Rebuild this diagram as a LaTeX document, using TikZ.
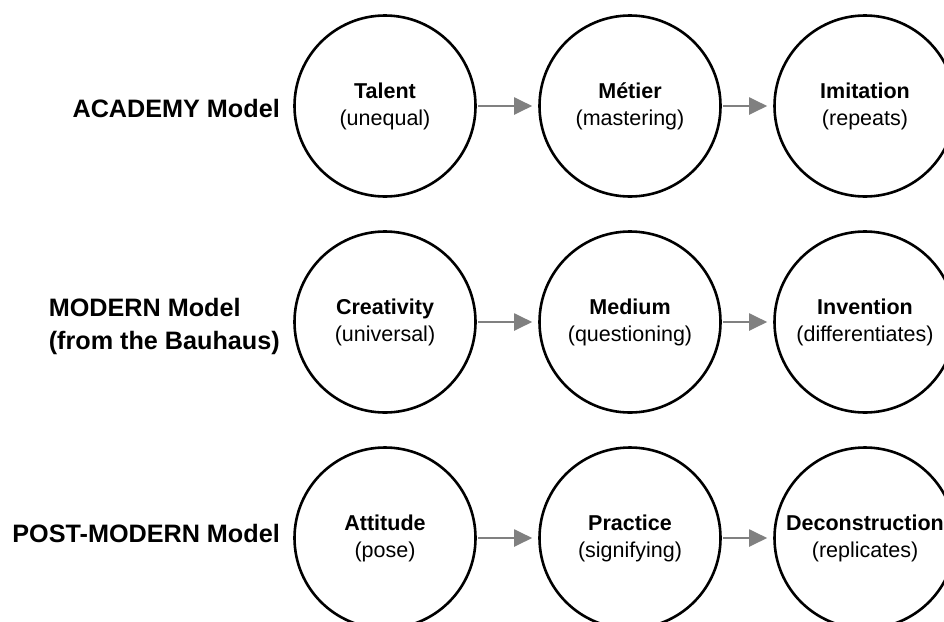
\documentclass[tikz,border=0pt]{standalone}
\usepackage{fontspec}
\setmainfont{Liberation Sans}
\usetikzlibrary{arrows.meta}

\begin{document}
\begin{tikzpicture}[
    x=1pt, y=-1pt,
    stage/.style={circle, draw=black, line width=2.6pt, minimum size=181pt, inner sep=0pt,
        align=center, font=\fontsize{21.5}{27}\selectfont},
    model/.style={anchor=east, align=left, inner sep=0pt, font=\fontsize{25.2}{33}\selectfont\bfseries},
    flow/.style={draw=black!50, line width=2pt, -{Triangle[length=18pt, width=17pt]},
        shorten <=1.3pt, shorten >=6pt}
    ]
    \useasboundingbox (0,0) rectangle (944,621);

    % row labels
    \node[model] (academy)    at (280,108) {ACADEMY Model};
    \node[model] (modern)     at (280,326) {MODERN Model\\(from the Bauhaus)};
    \node[model] (postmodern) at (280,533) {POST-MODERN Model};

    % academy
    \node[stage] (talent)    at (385,106) {\textbf{Talent}\\(unequal)};
    \node[stage] (metier)    at (630,106) {\textbf{Métier}\\(mastering)};
    \node[stage] (imitation) at (865,106) {\textbf{Imitation}\\(repeats)};

    % modern
    \node[stage] (creativity) at (385,322) {\textbf{Creativity}\\(universal)};
    \node[stage] (medium)     at (630,322) {\textbf{Medium}\\(questioning)};
    \node[stage] (invention)  at (865,322) {\textbf{Invention}\\(differentiates)};

    % post-modern
    \node[stage] (attitude)       at (385,538) {\textbf{Attitude}\\(pose)};
    \node[stage] (practice)       at (630,538) {\textbf{Practice}\\(signifying)};
    \node[stage] (deconstruction) at (865,538) {\textbf{Deconstruction}\\(replicates)};

    \draw[flow] (talent) -- (metier);
    \draw[flow] (metier) -- (imitation);
    \draw[flow] (creativity) -- (medium);
    \draw[flow] (medium) -- (invention);
    \draw[flow] (attitude) -- (practice);
    \draw[flow] (practice) -- (deconstruction);
\end{tikzpicture}
\end{document}
